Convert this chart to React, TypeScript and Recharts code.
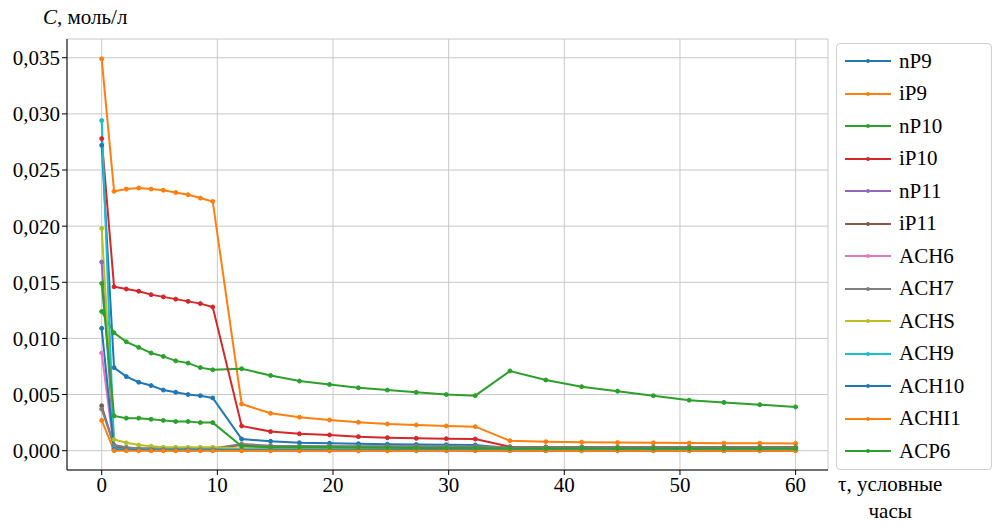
import { LineChart, Line, XAxis, YAxis, CartesianGrid } from "recharts";

const times = [0, 1.07, 2.13, 3.2, 4.27, 5.33, 6.4, 7.47, 8.53, 9.6, 12.1, 14.6, 17.1, 19.7, 22.2, 24.7, 27.2, 29.8, 32.3, 35.3, 38.4, 41.5, 44.6, 47.7, 50.8, 53.8, 56.9, 60];

const nP9 = [0.0272, 0.0074, 0.0066, 0.0061, 0.0058, 0.0054, 0.0052, 0.005, 0.0049, 0.0047, 0.00104, 0.00084, 0.00071, 0.00066, 0.00062, 0.00058, 0.00055, 0.00053, 0.00051, 0.00022, 0.00021, 0.0002, 0.0002, 0.0002, 0.0002, 0.0002, 0.0002, 0.0002];
const iP9 = [0.0349, 0.0231, 0.0233, 0.0234, 0.0233, 0.0232, 0.023, 0.0228, 0.0225, 0.0222, 0.00416, 0.00333, 0.00298, 0.00273, 0.00253, 0.00238, 0.00229, 0.0022, 0.00214, 0.00089, 0.0008, 0.00076, 0.00072, 0.0007, 0.00068, 0.00067, 0.00066, 0.00065];
const nP10 = [0.0124, 0.0105, 0.0097, 0.0092, 0.0087, 0.0084, 0.008, 0.0078, 0.0074, 0.0072, 0.0073, 0.0067, 0.0062, 0.0059, 0.0056, 0.0054, 0.0052, 0.005, 0.0049, 0.0071, 0.0063, 0.0057, 0.0053, 0.0049, 0.0045, 0.0043, 0.0041, 0.0039];
const iP10 = [0.0278, 0.0146, 0.0144, 0.0142, 0.0139, 0.0137, 0.0135, 0.0133, 0.0131, 0.0128, 0.0022, 0.0017, 0.0015, 0.0014, 0.00125, 0.00116, 0.0011, 0.00107, 0.00104, 0.00035, 0.00033, 0.00032, 0.00031, 0.0003, 0.0003, 0.0003, 0.0003, 0.0003];
const nP11 = [0.0168, 0.0003, 0.00012, 0.0001, 0.0001, 0.0001, 0.0001, 0.0001, 0.0001, 0.0001, 0.0001, 0.0001, 0.00008, 0.00008, 0.00008, 0.00008, 0.00007, 0.00007, 0.00007, 0.00006, 0.00006, 0.00006, 0.00005, 0.00005, 0.00005, 0.00005, 0.00005, 0.00005];
const iP11 = [0.004, 0.0004, 0.0002, 0.0002, 0.0002, 0.0002, 0.0002, 0.0002, 0.0002, 0.0002, 0.0005, 0.0004, 0.0004, 0.00038, 0.00036, 0.00035, 0.00034, 0.00033, 0.00032, 0.0003, 0.0003, 0.0003, 0.0003, 0.0003, 0.0003, 0.0003, 0.0003, 0.0003];
const ACH6 = [0.0087, 0.0001, 0.00005, 0.00003, 0.00002, 0.00002, 0.00001, 0.00001, 0.00001, 0.00001, 0.00001, 0, 0, 0, 0, 0, 0, 0, 0, 0, 0, 0, 0, 0, 0, 0, 0, 0];
const ACH7 = [0.0037, 0.0005, 0.0003, 0.0002, 0.0002, 0.0002, 0.0002, 0.0002, 0.0002, 0.0002, 0.0006, 0.00045, 0.0004, 0.0004, 0.0004, 0.0004, 0.0004, 0.0004, 0.0004, 0.0003, 0.0003, 0.0003, 0.0003, 0.0003, 0.0003, 0.0003, 0.0003, 0.0003];
const ACHS = [0.0198, 0.001, 0.0007, 0.0005, 0.0004, 0.0003, 0.0003, 0.0003, 0.0003, 0.0003, 0.0002, 0.0002, 0.0002, 0.0002, 0.0002, 0.0002, 0.0002, 0.0002, 0.0002, 0.00015, 0.00015, 0.00015, 0.00015, 0.00015, 0.00015, 0.00015, 0.00015, 0.00015];
const ACH9 = [0.0294, 0.0002, 0.0001, 0.0001, 0.0001, 0.0001, 0.0001, 0.0001, 0.0001, 0.0001, 0.0001, 0.0001, 0.0001, 0.0001, 0.0001, 0.0001, 0.0001, 0.0001, 0.0001, 0.0001, 0.0001, 0.0001, 0.0001, 0.0001, 0.0001, 0.0001, 0.0001, 0.0001];
const ACH10 = [0.0109, 0.0001, 0.00008, 0.00006, 0.00005, 0.00005, 0.00004, 0.00004, 0.00004, 0.00004, 0.00003, 0.00003, 0.00003, 0.00003, 0.00003, 0.00003, 0.00003, 0.00003, 0.00003, 0.00002, 0.00002, 0.00002, 0.00002, 0.00002, 0.00002, 0.00002, 0.00002, 0.00002];
const ACH11 = [0.0027, 0, 0, 0, 0, 0, 0, 0, 0, 0, 0, 0, 0, 0, 0, 0, 0, 0, 0, 0, 0, 0, 0, 0, 0, 0, 0, 0];
const ACP6 = [0.0149, 0.0031, 0.0029, 0.0029, 0.0028, 0.0027, 0.0026, 0.0026, 0.0025, 0.0025, 0.0004, 0.0003, 0.0003, 0.0003, 0.00028, 0.00026, 0.00025, 0.00024, 0.00023, 0.0002, 0.0002, 0.0002, 0.0002, 0.0002, 0.0002, 0.0002, 0.0002, 0.0002];

const seriesNames = ["nP9", "iP9", "nP10", "iP10", "nP11", "iP11", "ACH6", "ACH7", "ACHS", "ACH9", "ACH10", "ACHI1", "ACP6"];
const seriesValues = [nP9, iP9, nP10, iP10, nP11, iP11, ACH6, ACH7, ACHS, ACH9, ACH10, ACH11, ACP6];
const colors = ["#1f77b4", "#ff7f0e", "#2ca02c", "#d62728", "#9467bd", "#8c564b", "#e377c2", "#7f7f7f", "#bcbd22", "#17becf", "#1f77b4", "#ff7f0e", "#2ca02c"];

const xTicks = [0, 10, 20, 30, 40, 50, 60];
const yTicks = [0, 0.005, 0.01, 0.015, 0.02, 0.025, 0.03, 0.035];

const data = times.map((t, i) => {
  const row: Record<string, number> = { t };
  seriesNames.forEach((name, k) => {
    row[name] = seriesValues[k][i];
  });
  return row;
});

const font = "Liberation Serif, DejaVu Serif, Times New Roman, serif";

// legend drawn as a plain box so it doesn't eat into the plot area
const LegendBox = () => (
  <div
    style={{
      position: "absolute",
      left: 836,
      top: 43,
      border: "1px solid #d0d0d0",
      borderRadius: 4,
      width: 156,
      height: 427,
      background: "#fff",
      fontFamily: font,
      fontSize: 21,
      color: "#000",
      paddingTop: 1,
      boxSizing: "border-box",
    }}
  >
    {seriesNames.map((name, i) => (
      <div key={name} style={{ display: "flex", alignItems: "center", height: 32.5 }}>
        <svg width={54} height={10} style={{ marginLeft: 8 }}>
          <line x1={0} y1={5} x2={46} y2={5} stroke={colors[i]} strokeWidth={2} />
          <circle cx={23} cy={5} r={2} fill={colors[i]} />
        </svg>
        <span>{name}</span>
      </div>
    ))}
  </div>
);

export default function App() {
  return (
    <div
      style={{
        position: "fixed",
        left: 0,
        top: 0,
        width: 995,
        height: 531,
        background: "#fff",
        fontFamily: font,
      }}
    >
      <LineChart
        width={995}
        height={531}
        data={data}
        margin={{ top: 39, right: 167, bottom: 0, left: 0 }}
        style={{ fontFamily: font }}
      >
        <CartesianGrid stroke="#c8c8c8" strokeWidth={1} />
        <XAxis
          dataKey="t"
          type="number"
          domain={[-3, 62.8]}
          ticks={xTicks}
          allowDataOverflow
          stroke="#000"
          tickLine={{ stroke: "#000" }}
          tickSize={5}
          tick={{ fill: "#000", fontSize: 21, fontFamily: font }}
          height={61}
        />
        <YAxis
          type="number"
          domain={[-0.00172, 0.03667]}
          ticks={yTicks}
          allowDataOverflow
          width={67}
          stroke="#000"
          tickLine={{ stroke: "#000" }}
          tickSize={5}
          tickFormatter={(v: number) => v.toFixed(3).replace(".", ",")}
          tick={{ fill: "#000", fontSize: 21, fontFamily: font }}
        />
        {seriesNames.map((name, i) => (
          <Line
            key={name}
            dataKey={name}
            stroke={colors[i]}
            strokeWidth={2}
            dot={{ r: 2, fill: colors[i], stroke: colors[i], strokeWidth: 1 }}
            activeDot={false}
            isAnimationActive={false}
          />
        ))}
      </LineChart>
      <LegendBox />
      <div style={{ position: "absolute", left: 43, top: 5, fontSize: 21, color: "#000" }}>
        <i>C</i>, моль/л
      </div>
      <div
        style={{
          position: "absolute",
          left: 838,
          top: 471,
          fontSize: 21,
          color: "#000",
          textAlign: "center",
          lineHeight: "27px",
        }}
      >
        τ, условные
        <br />
        часы
      </div>
    </div>
  );
}
